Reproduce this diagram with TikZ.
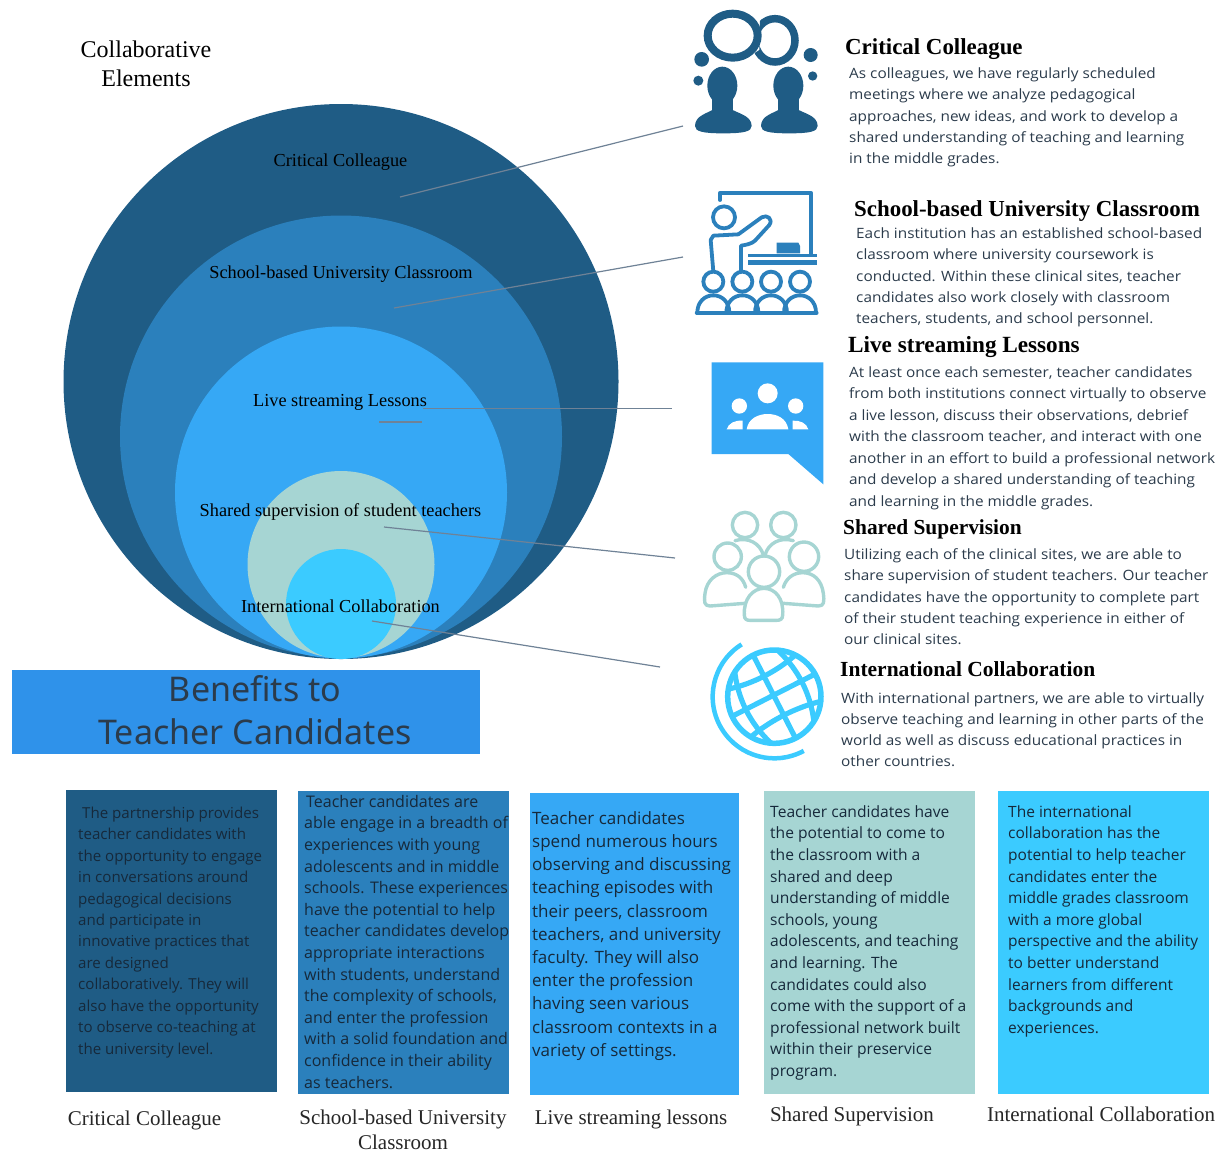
\documentclass[tikz,border=0pt]{standalone}
\usepackage{fontspec}
\setmainfont{Liberation Serif}
\newfontfamily\bodyf{Open Sans}
\newfontfamily\bodyw[FakeStretch=1.08]{Open Sans}
\newfontfamily\headf{Noto Sans}
\definecolor{cA}{HTML}{1F5C85}
\definecolor{cB}{HTML}{2B80BC}
\definecolor{cC}{HTML}{36A8F5}
\definecolor{cD}{HTML}{A6D5D3}
\definecolor{cE}{HTML}{3BCBFF}
\definecolor{cH}{HTML}{2F92EA}
\definecolor{cT}{HTML}{2B3B4B}
\definecolor{cU}{HTML}{16293B}
\definecolor{cL}{HTML}{6F8296}
\newcommand{\fsz}[2]{\fontsize{#1pt}{#2pt}\selectfont}
% name, x, baseline y, font size, line skip, colour, text
\newcommand{\para}[7]{\node[parastyle,text=#6,font=\fsz{#4}{#5}\bodyf] (#1) at (#2,#3-20) {\rule{0pt}{20pt}#7};}
\newcommand{\parw}[7]{\node[parastyle,text=#6,font=\fsz{#4}{#5}\bodyw] (#1) at (#2,#3-20) {\rule{0pt}{20pt}#7};}
\tikzset{
 parastyle/.style={anchor=north west,inner sep=0pt,align=left},
 circlab/.style={inner sep=0pt,text=black,font=\fsz{18.3}{20}},
 foot/.style={inner sep=0pt,text=black!85,font=\fsz{21}{25},align=center},
 headg/.style={anchor=base west,inner sep=0pt,text=black},
 bcirc/.style={circle,inner sep=0pt,draw=none},
 boxr/.style={rectangle,inner sep=0pt,draw=none,anchor=north west},
 leader/.style={draw=cL,line width=1.2pt},
}
\begin{document}
\begin{tikzpicture}[x=1pt,y=-1pt]
\useasboundingbox (0,0) rectangle (1222,1152);
% nested circles
\node[bcirc,fill=cA,minimum size=555pt] (c1) at (341,381.5) {};
\node[bcirc,fill=cB,minimum size=442pt] (c2) at (341,436.5) {};
\node[bcirc,fill=cC,minimum size=332pt] (c3) at (341,492.5) {};
\node[bcirc,fill=cD,minimum size=187pt] (c4) at (341,564.5) {};
\node[bcirc,fill=cE,minimum size=110pt] (c5) at (341,604) {};
\node[inner sep=0pt,align=center,font=\fsz{24}{29.5}] (title) at (146,64) {Collaborative\\Elements};
\node[circlab] (l1) at (340.5,162.5) {Critical Colleague};
\node[circlab] (l2) at (341,274.5) {School-based University Classroom};
\node[circlab] (l3) at (340,402) {Live streaming Lessons};
\node[circlab] (l4) at (340.5,511.5) {Shared supervision of student teachers};
\node[circlab] (l5) at (340.5,606.5) {International Collaboration};
% leaders
\coordinate (a1) at (400,197); \coordinate (b1) at (683,126);
\coordinate (a2) at (394,308); \coordinate (b2) at (683,257);
\coordinate (a3) at (423,408.5); \coordinate (b3) at (672,408.5);
\coordinate (a3s) at (379,422); \coordinate (b3s) at (422,422);
\coordinate (a4) at (384,527); \coordinate (b4) at (675,558);
\coordinate (a5) at (372,621); \coordinate (b5) at (660,667);
\draw[leader] (a1)--(b1); \draw[leader] (a2)--(b2); \draw[leader] (a3)--(b3);
\draw[leader] (a3s)--(b3s); \draw[leader] (a4)--(b4); \draw[leader] (a5)--(b5);
% Icon 1
\begin{scope}[shift={(680pt,0pt)},x=0.33333pt,y=-0.33333pt]
 \draw[cA,line width=8pt] (158,107) ellipse [x radius=75,y radius=66];
 \begin{scope}
  \clip (225,20) -- (400,20) -- (400,230) -- (190,230) -- (190,180) -- (238,150) -- (240,60) -- cycle;
  \draw[cA,line width=7.5pt] (285,121) ellipse [x radius=60,y radius=65];
 \end{scope}
 \fill[cA] (65,178) circle [radius=22];
 \fill[cA] (55,242) circle [radius=15];
 \fill[cA] (392,165) circle [radius=21];
 \fill[cA] (398,228) circle [radius=14];
 \foreach \dx in {0,198}{
 \begin{scope}[shift={(\dx*0.33333pt,0pt)}]
  \fill[cA] (127,257) ellipse [x radius=45,y radius=57];
  \fill[cA] (95,290) rectangle (160,345);
  \fill[cA] (45,378) .. controls (45,345) and (85,340) .. (105,325) -- (150,325)
     .. controls (170,340) and (215,345) .. (215,378)
     .. controls (215,395) and (190,400) .. (130,400)
     .. controls (70,400) and (45,395) .. (45,378) -- cycle;
 \end{scope}}
\end{scope}
% Icon 2
\begin{scope}[shift={(680pt,0pt)},x=0.33333pt,y=-0.33333pt,line width=3.8pt,draw=cB]
 \draw[cB,line cap=round,line join=round] (120,600) -- (120,578) -- (392,578) -- (392,765);
 \fill[cB] (205,762) rectangle (410,772);
 \fill[cB] (205,780) rectangle (410,795);
 \fill[cB] (290,728) -- (355,728) -- (360,738) -- (360,760) -- (290,760) -- cycle;
 \draw[cB] (132,652) circle [radius=33];
 \draw[cB,line join=round,line cap=round] (100,815) -- (92,720) -- (100,707) -- (175,703)
   -- (245,652) .. controls (262,642) and (280,658) .. (268,675)
   -- (225,722) .. controls (215,732) and (195,735) .. (183,737) -- (183,815);
 \foreach \hx in {100,187,273,360}{
  \draw[cB,fill=white] (\hx,845) circle [radius=30];
  \draw[cB] (\hx-48,938) .. controls (\hx-48,905) and (\hx-25,886) .. (\hx,886)
    .. controls (\hx+25,886) and (\hx+48,905) .. (\hx+48,938);
 }
 \draw[cB,line cap=round] (50,938) -- (410,938);
\end{scope}
% Icon 3
\begin{scope}[shift={(680pt,-350pt)},x=0.33333pt,y=-0.33333pt]
 \fill[cC] (95,37) -- (430,37) -- (430,403) -- (325,312) -- (95,312) -- cycle;
 \fill[white] (263,130) circle [radius=30];
 \fill[white] (178,168) circle [radius=23];
 \fill[white] (347,168) circle [radius=23];
 \fill[white] (200,238) .. controls (205,205) and (235,192) .. (263,192)
   .. controls (291,192) and (320,205) .. (325,238) -- cycle;
 \fill[white] (140,238) .. controls (145,220) and (165,210) .. (188,212) -- (188,238) -- cycle;
 \fill[white] (385,238) .. controls (380,220) and (360,210) .. (338,212) -- (338,238) -- cycle;
\end{scope}
% Icon 4
\begin{scope}[shift={(680pt,-350pt)},x=0.33333pt,y=-0.33333pt]
 \tikzset{sh/.style={draw=cD,line width=3.4pt,line join=round,line cap=round}}
 \draw[sh] (195,525) circle [radius=38];
 \draw[sh] (310,525) circle [radius=38];
 \draw[sh] (165,572) .. controls (205,560) and (240,580) .. (250,615);
 \draw[sh] (340,572) .. controls (300,560) and (265,580) .. (255,615);
 \draw[sh] (143,620) circle [radius=41];
 \draw[sh] (372,620) circle [radius=44];
 \draw[sh] (195,760) -- (90,768) .. controls (72,768) and (72,755) .. (75,730)
   .. controls (80,690) and (110,668) .. (140,668) .. controls (170,668) and (190,685) .. (197,712);
 \draw[sh] (310,760) -- (415,768) .. controls (433,768) and (433,755) .. (430,730)
   .. controls (425,690) and (400,668) .. (368,668) .. controls (340,668) and (318,685) .. (310,712);
 \draw[sh] (252,665) circle [radius=47];
 \draw[sh] (193,795) .. controls (190,745) and (220,715) .. (252,715)
   .. controls (285,715) and (312,745) .. (308,795) .. controls (308,808) and (300,811) .. (290,811)
   -- (210,811) .. controls (200,811) and (193,808) .. (193,795) -- cycle;
\end{scope}
% Icon 5 globe
\begin{scope}[shift={(680pt,-350pt)},x=0.33333pt,y=-0.33333pt]
 \coordinate (gc) at (283,1040);
 \draw[cE,line width=5.5pt] (gc) circle [radius=140];
 \draw[cE,line width=4.5pt] (gc) ++(-122:185) arc [start angle=-122,end angle=-298.5,radius=185];
 \begin{scope}
  \clip (gc) circle [radius=140];
  \begin{scope}[shift={(gc)},rotate=27]
   \tikzset{gl/.style={draw=cE,line width=5.2pt}}
   \draw[gl] (-150,-5) -- (150,-5);
   \draw[gl] (-150,-95) .. controls (-60,-60) and (60,-60) .. (150,-95);
   \draw[gl] (-150,85) .. controls (-60,55) and (60,55) .. (150,85);
   \draw[gl] (-60,-150) .. controls (-105,-50) and (-105,50) .. (-60,150);
   \draw[gl] (60,-150) .. controls (105,-50) and (105,50) .. (60,150);
   \draw[gl] (0,-150) -- (0,150);
  \end{scope}
 \end{scope}
\end{scope}
% right headings
\node[headg,font=\fsz{22.9}{26}\bfseries] (h1) at (845,54) {Critical Colleague};
\node[headg,font=\fsz{22.9}{26}\bfseries] (h2) at (854,216) {School-based University Classroom};
\node[headg,font=\fsz{23.2}{26}\bfseries] (h3) at (848,352) {Live streaming Lessons};
\node[headg,font=\fsz{21.4}{26}\bfseries] (h4) at (843,534) {Shared Supervision};
\node[headg,font=\fsz{21.5}{26}\bfseries] (h5) at (840,676) {International Collaboration};
% right paragraphs
\parw{p1}{849}{78}{14.2}{21.4}{cT}{As colleagues, we have regularly scheduled\\meetings where we analyze pedagogical\\approaches, new ideas, and work to develop a\\shared understanding of teaching and learning\\in the middle grades.}
\parw{p2}{856}{238}{14.2}{21.4}{cT}{Each institution has an established school-based\\classroom where university coursework is\\conducted. Within these clinical sites, teacher\\candidates also work closely with classroom\\teachers, students, and school personnel.}
\parw{p3}{849}{377}{14.2}{21.5}{cT}{At least once each semester, teacher candidates\\from both institutions connect virtually to observe\\a live lesson, discuss their observations, debrief\\with the classroom teacher, and interact with one\\another in an effort to build a professional network\\and develop a shared understanding of teaching\\and learning in the middle grades.}
\parw{p4}{844}{559}{14.2}{21.4}{cT}{Utilizing each of the clinical sites, we are able to\\share supervision of student teachers. Our teacher\\candidates have the opportunity to complete part\\of their student teaching experience in either of\\our clinical sites.}
\parw{p5}{841}{703}{14.2}{21.2}{cT}{With international partners, we are able to virtually\\observe teaching and learning in other parts of the\\world as well as discuss educational practices in\\other countries.}
% banner
\node[boxr,fill=cH,minimum width=468pt,minimum height=84pt] (ban) at (12,670) {};
\node[inner sep=0pt,align=center,text=cT,font=\fsz{34}{43}\headf] (bant) at (255,710) {Benefits to\\Teacher Candidates};
% bottom boxes
\node[boxr,fill=cA,minimum width=211pt,minimum height=302pt] (b1box) at (66,790) {};
\node[boxr,fill=cB,minimum width=211pt,minimum height=303pt] (b2box) at (298,791) {};
\node[boxr,fill=cC,minimum width=209pt,minimum height=302pt] (b3box) at (530,793) {};
\node[boxr,fill=cD,minimum width=211pt,minimum height=303pt] (b4box) at (764,791) {};
\node[boxr,fill=cE,minimum width=211pt,minimum height=303pt] (b5box) at (998,791) {};
\para{t1}{78}{818}{15.1}{21.45}{cU}{\hspace{4pt}The partnership provides\\teacher candidates with\\the opportunity to engage\\in conversations around\\pedagogical decisions\\and participate in\\innovative practices that\\are designed\\collaboratively. They will\\also have the opportunity\\to observe co-teaching at\\the university level.}
\para{t2}{304}{807}{16}{21.6}{cU}{\hspace{2pt}Teacher candidates are\\able engage in a breadth of\\experiences with young\\adolescents and in middle\\schools. These experiences\\have the potential to help\\teacher candidates develop\\appropriate interactions\\with students, understand\\the complexity of schools,\\and enter the profession\\with a solid foundation and\\confidence in their ability\\as teachers.}
\para{t3}{532}{824}{17}{23.2}{cU}{Teacher candidates\\spend numerous hours\\observing and discussing\\teaching episodes with\\their peers, classroom\\teachers, and university\\faculty. They will also\\enter the profession\\having seen various\\classroom contexts in a\\variety of settings.}
\para{t4}{770}{817}{15.6}{21.6}{cU}{Teacher candidates have\\the potential to come to\\the classroom with a\\shared and deep\\understanding of middle\\schools, young\\adolescents, and teaching\\and learning. The\\candidates could also\\come with the support of a\\professional network built\\within their preservice\\program.}
\para{t5}{1008}{817}{15.5}{21.6}{cU}{The international\\collaboration has the\\potential to help teacher\\candidates enter the\\middle grades classroom\\with a more global\\perspective and the ability\\to better understand\\learners from different\\backgrounds and\\experiences.}
% footers
\node[foot] (f1) at (144.5,1120) {Critical Colleague};
\node[foot] (f2) at (403,1130) {School-based University\\Classroom};
\node[foot] (f3) at (631,1119) {Live streaming lessons};
\node[foot] (f4) at (852,1116) {Shared Supervision};
\node[foot] (f5) at (1101,1114) {International Collaboration};
\end{tikzpicture}
\end{document}
